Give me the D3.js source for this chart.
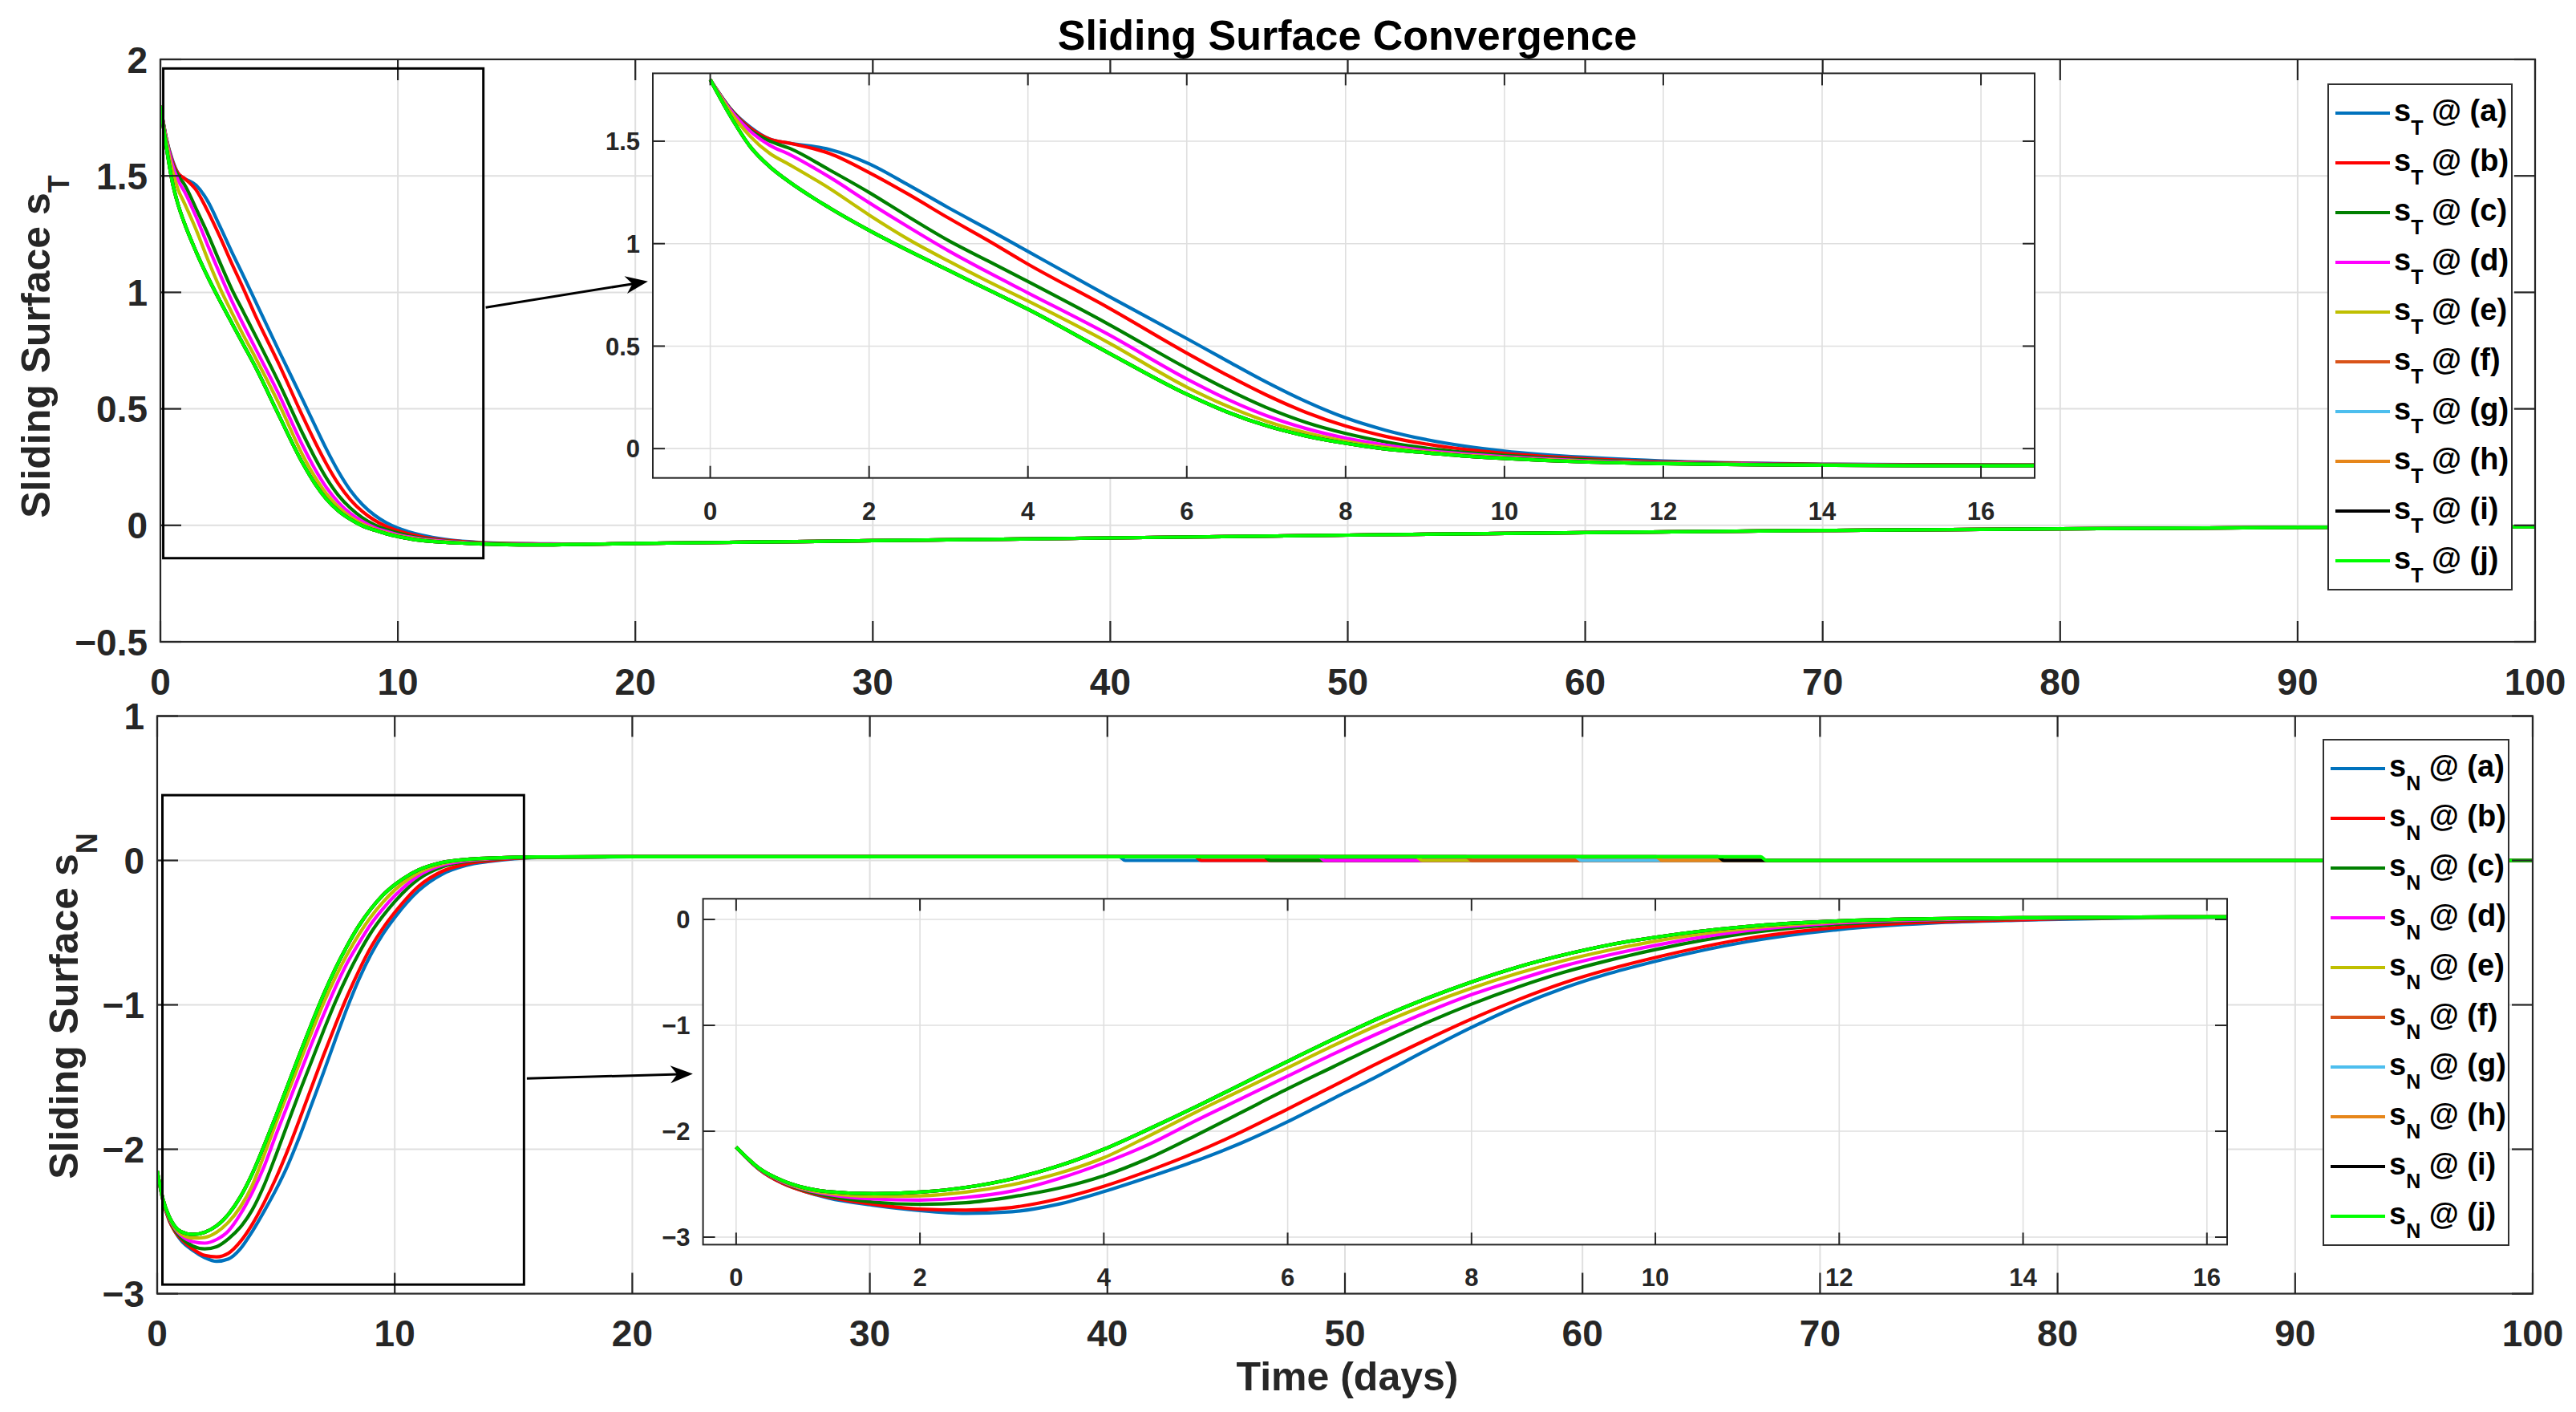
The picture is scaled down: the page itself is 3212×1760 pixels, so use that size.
<!DOCTYPE html>
<html>
<head>
<meta charset="utf-8">
<script src="https://cdn.jsdelivr.net/npm/d3@7"></script>
<style>
  body { margin: 0; background: #fff; }
  svg text { font-family: "Liberation Sans", Arial, sans-serif; font-weight: bold; }
</style>
</head>
<body>
<div id="chart"></div>
<script>
const W = 3212, H = 1760;

// ---- data ----
const caseLabels = ["a", "b", "c", "d", "e", "f", "g", "h", "i", "j"];
const caseColors = ["#0072BD", "#FF0000", "#008000", "#FF00FF", "#BFBF00",
                    "#D95319", "#4DBEEE", "#E6861A", "#000000", "#00FF00"];

// s_T, transient part (days)
const timeT = [0, 0.25, 0.5, 0.75, 1, 1.5, 2, 2.5, 3, 3.5, 4, 5, 6, 6.5, 7, 7.5, 8, 8.5, 9, 9.5, 10, 11, 12, 13, 14, 16];
const sTa = [1.80, 1.66, 1.57, 1.51, 1.49, 1.46, 1.39, 1.285, 1.175, 1.07, 0.962, 0.747, 0.537, 0.43, 0.325, 0.23, 0.15, 0.09, 0.045, 0.012, -0.012, -0.042, -0.06, -0.07, -0.076, -0.079];
const sTb = [1.80, 1.66, 1.565, 1.51, 1.49, 1.44, 1.347, 1.24, 1.125, 1.015, 0.90, 0.69, 0.466, 0.36, 0.262, 0.177, 0.11, 0.06, 0.023, -0.004, -0.023, -0.049, -0.064, -0.072, -0.077, -0.080];
const sTc = [1.80, 1.66, 1.555, 1.50, 1.465, 1.36, 1.25, 1.13, 1.015, 0.915, 0.815, 0.61, 0.392, 0.291, 0.201, 0.128, 0.074, 0.033, 0.003, -0.018, -0.033, -0.055, -0.067, -0.074, -0.078, -0.081];
const sTd = [1.80, 1.655, 1.55, 1.48, 1.435, 1.325, 1.20, 1.08, 0.965, 0.86, 0.76, 0.56, 0.34, 0.243, 0.161, 0.098, 0.051, 0.017, -0.009, -0.026, -0.04, -0.059, -0.069, -0.075, -0.079, -0.082];
const sTe = [1.80, 1.645, 1.525, 1.44, 1.385, 1.27, 1.14, 1.02, 0.915, 0.815, 0.72, 0.52, 0.30, 0.209, 0.134, 0.078, 0.036, 0.006, -0.016, -0.032, -0.045, -0.062, -0.071, -0.077, -0.08, -0.083];
const sTj = [1.80, 1.625, 1.475, 1.375, 1.30, 1.175, 1.065, 0.965, 0.87, 0.775, 0.68, 0.47, 0.265, 0.18, 0.112, 0.062, 0.026, -0.002, -0.02, -0.036, -0.048, -0.065, -0.073, -0.078, -0.081, -0.084];
// (f)-(i) sit under (j) in the picture
const sTList = [sTa, sTb, sTc, sTd, sTe, sTj, sTj, sTj, sTj, sTj];
// slow tail shared by every case
const timeTTail = [18, 20, 25, 30, 40, 50, 60, 70, 80, 90, 100];
const sTTail = [-0.081, -0.078, -0.072, -0.066, -0.054, -0.042, -0.031, -0.022, -0.015, -0.009, -0.006];

// s_N, transient part (days)
const timeN = [0, 0.25, 0.5, 0.75, 1, 1.5, 2, 2.5, 3, 3.5, 4, 4.5, 5, 5.5, 6, 6.5, 7, 7.5, 8, 8.5, 9, 9.5, 10, 11, 12, 13, 14, 16, 20];
const sNa = [-2.15, -2.36, -2.49, -2.57, -2.63, -2.70, -2.75, -2.776, -2.76, -2.69, -2.57, -2.43, -2.28, -2.11, -1.91, -1.69, -1.47, -1.24, -1.02, -0.82, -0.65, -0.51, -0.395, -0.21, -0.095, -0.035, -0.007, 0.02, 0.026];
const sNb = [-2.15, -2.36, -2.49, -2.57, -2.62, -2.69, -2.735, -2.745, -2.72, -2.64, -2.52, -2.37, -2.20, -2.005, -1.79, -1.57, -1.35, -1.14, -0.94, -0.76, -0.60, -0.47, -0.36, -0.18, -0.075, -0.025, -0.002, 0.021, 0.026];
const sNc = [-2.15, -2.355, -2.48, -2.56, -2.61, -2.67, -2.69, -2.675, -2.62, -2.54, -2.42, -2.25, -2.04, -1.82, -1.60, -1.39, -1.18, -0.98, -0.80, -0.64, -0.50, -0.385, -0.285, -0.13, -0.045, -0.008, 0.008, 0.023, 0.026];
const sNd = [-2.15, -2.355, -2.475, -2.55, -2.595, -2.64, -2.65, -2.625, -2.565, -2.45, -2.30, -2.12, -1.90, -1.69, -1.48, -1.27, -1.07, -0.88, -0.71, -0.57, -0.44, -0.335, -0.245, -0.105, -0.032, -0.002, 0.011, 0.023, 0.026];
const sNe = [-2.15, -2.35, -2.47, -2.545, -2.585, -2.615, -2.61, -2.575, -2.505, -2.40, -2.25, -2.04, -1.82, -1.61, -1.40, -1.19, -0.99, -0.81, -0.65, -0.51, -0.39, -0.29, -0.205, -0.085, -0.022, 0.004, 0.014, 0.024, 0.026];
const sNj = [-2.15, -2.35, -2.465, -2.535, -2.57, -2.59, -2.575, -2.53, -2.45, -2.33, -2.17, -1.975, -1.77, -1.555, -1.34, -1.13, -0.93, -0.75, -0.59, -0.45, -0.335, -0.24, -0.168, -0.066, -0.014, 0.007, 0.016, 0.024, 0.026];
const sNList = [sNa, sNb, sNc, sNd, sNe, sNj, sNj, sNj, sNj, sNj];
// each case holds a small positive level, then drops to zero on its own day
const sNHold = 0.026;
const sNDropDay = [40.5, 43.7, 46.6, 48.9, 53.0, 55.1, 59.7, 63.1, 65.7, 67.5];

// ticks
const xTicksMain = [0, 10, 20, 30, 40, 50, 60, 70, 80, 90, 100];
const yTicksT = [-0.5, 0, 0.5, 1, 1.5, 2];
const yTicksN = [-3, -2, -1, 0, 1];
const xTicksInset = [0, 2, 4, 6, 8, 10, 12, 14, 16];
const yTicksInsetT = [0, 0.5, 1, 1.5];
const yTicksInsetN = [-3, -2, -1, 0];

// zoom boxes [x0, x1, y0, y1] and arrows [x1, y1, x2, y2], in main-axes units
const zoomBoxT = [0.12, 13.6, -0.141, 1.961];
const arrowT = [13.7, 0.935, 20.53, 1.047];
const zoomBoxN = [0.22, 15.44, -2.937, 0.452];
const arrowN = [15.56, -1.51, 22.55, -1.478];

// ---- build series ----
const seriesT = caseLabels.map((c, i) => ({
  label: c, color: caseColors[i],
  pts: timeT.map((t, k) => [t, sTList[i][k]]).concat(timeTTail.map((t, k) => [t, sTTail[k]]))
}));
const seriesN = caseLabels.map((c, i) => ({
  label: c, color: caseColors[i],
  pts: timeN.map((t, k) => [t, sNList[i][k]])
    .concat([[sNDropDay[i], sNHold], [sNDropDay[i] + 0.25, 0], [100, 0]])
}));

const fmt = d => (d < 0 ? "\u2212" : "") + Math.abs(d);

const svg = d3.select("#chart").append("svg")
  .attr("width", W).attr("height", H)
  .attr("viewBox", `0 0 ${W} ${H}`);
svg.append("rect").attr("width", W).attr("height", H).attr("fill", "#fff");
const defs = svg.append("defs");

let clipCount = 0;
function drawAxes(o, series) {
  const x = d3.scaleLinear().domain(o.xDomain).range([o.left, o.right]);
  const y = d3.scaleLinear().domain(o.yDomain).range([o.bottom, o.top]);
  const g = svg.append("g");

  g.append("rect")
    .attr("x", o.left).attr("y", o.top)
    .attr("width", o.right - o.left).attr("height", o.bottom - o.top)
    .attr("fill", "#fff");

  // grid
  g.append("g").selectAll("line").data(o.xTicks).join("line")
    .attr("x1", d => x(d)).attr("x2", d => x(d))
    .attr("y1", o.top).attr("y2", o.bottom)
    .attr("stroke", "#dfdfdf").attr("stroke-width", o.gridW);
  g.append("g").selectAll("line").data(o.yTicks).join("line")
    .attr("y1", d => y(d)).attr("y2", d => y(d))
    .attr("x1", o.left).attr("x2", o.right)
    .attr("stroke", "#dfdfdf").attr("stroke-width", o.gridW);

  // curves
  const id = "clip" + (clipCount++);
  defs.append("clipPath").attr("id", id).append("rect")
    .attr("x", o.left).attr("y", o.top)
    .attr("width", o.right - o.left).attr("height", o.bottom - o.top);
  const line = d3.line().x(d => x(d[0])).y(d => y(d[1])).curve(d3.curveMonotoneX);
  g.append("g").attr("clip-path", `url(#${id})`)
    .selectAll("path").data(series).join("path")
    .attr("d", d => line(d.pts))
    .attr("fill", "none")
    .attr("stroke", d => d.color)
    .attr("stroke-width", 4.2)
    .attr("stroke-linejoin", "round");

  // box and inward ticks on all sides
  const axisCol = "#262626";
  const tl = o.tickLen;
  const ticks = g.append("g").attr("stroke", axisCol).attr("stroke-width", o.boxW);
  o.xTicks.forEach(t => {
    ticks.append("line").attr("x1", x(t)).attr("x2", x(t)).attr("y1", o.bottom).attr("y2", o.bottom - tl);
    ticks.append("line").attr("x1", x(t)).attr("x2", x(t)).attr("y1", o.top).attr("y2", o.top + tl);
  });
  o.yTicks.forEach(t => {
    ticks.append("line").attr("y1", y(t)).attr("y2", y(t)).attr("x1", o.left).attr("x2", o.left + tl);
    ticks.append("line").attr("y1", y(t)).attr("y2", y(t)).attr("x1", o.right).attr("x2", o.right - tl);
  });
  g.append("rect")
    .attr("x", o.left).attr("y", o.top)
    .attr("width", o.right - o.left).attr("height", o.bottom - o.top)
    .attr("fill", "none").attr("stroke", axisCol).attr("stroke-width", o.boxW);

  // tick labels
  g.append("g").selectAll("text").data(o.xTicks).join("text")
    .attr("x", d => x(d)).attr("y", o.xLabelY)
    .attr("text-anchor", "middle")
    .attr("font-size", o.fontSize).attr("fill", axisCol)
    .text(fmt);
  g.append("g").selectAll("text").data(o.yTicks).join("text")
    .attr("x", o.left - o.yLabelGap).attr("y", d => y(d))
    .attr("dy", "0.36em")
    .attr("text-anchor", "end")
    .attr("font-size", o.fontSize).attr("fill", axisCol)
    .text(fmt);

  return { x, y, g };
}

function drawZoomMarks(ax, box, arr) {
  const g = svg.append("g");
  g.append("rect")
    .attr("x", ax.x(box[0])).attr("y", ax.y(box[3]))
    .attr("width", ax.x(box[1]) - ax.x(box[0]))
    .attr("height", ax.y(box[2]) - ax.y(box[3]))
    .attr("fill", "none").attr("stroke", "#000").attr("stroke-width", 3);
  const x1 = ax.x(arr[0]), y1 = ax.y(arr[1]), x2 = ax.x(arr[2]), y2 = ax.y(arr[3]);
  const L = Math.hypot(x2 - x1, y2 - y1), ux = (x2 - x1) / L, uy = (y2 - y1) / L;
  const px = -uy, py = ux, hl = 28, hw = 11;
  const bx = x2 - ux * hl, by = y2 - uy * hl;
  g.append("line")
    .attr("x1", x1).attr("y1", y1)
    .attr("x2", x2 - ux * hl * 0.6).attr("y2", y2 - uy * hl * 0.6)
    .attr("stroke", "#000").attr("stroke-width", 3);
  g.append("path")
    .attr("d", `M${x2},${y2}L${bx + px * hw},${by + py * hw}L${x2 - ux * hl * 0.7},${y2 - uy * hl * 0.7}L${bx - px * hw},${by - py * hw}Z`)
    .attr("fill", "#000");
}

function drawLegend(left, top, width, height, sub, series) {
  const g = svg.append("g");
  g.append("rect")
    .attr("x", left).attr("y", top).attr("width", width).attr("height", height)
    .attr("fill", "#fff").attr("stroke", "#303030").attr("stroke-width", 2);
  const rowH = 62, first = 36;
  series.forEach((s, i) => {
    const cy = top + first + i * rowH;
    g.append("line")
      .attr("x1", left + 9).attr("x2", left + 77)
      .attr("y1", cy).attr("y2", cy)
      .attr("stroke", s.color).attr("stroke-width", 4);
    const t = g.append("text")
      .attr("x", left + 82).attr("y", cy + 10)
      .attr("font-size", 38).attr("fill", "#000");
    t.append("tspan").text("s");
    t.append("tspan").attr("font-size", 25).attr("dy", 17).text(sub);
    t.append("tspan").attr("dy", -17).text(` @ (${s.label})`);
  });
}

function drawYLabel(cx, cy, sub) {
  const t = svg.append("text")
    .attr("transform", `translate(${cx},${cy}) rotate(-90)`)
    .attr("text-anchor", "middle")
    .attr("font-size", 50).attr("fill", "#262626");
  t.append("tspan").text("Sliding Surface s");
  t.append("tspan").attr("font-size", 36).attr("dy", 24).text(sub);
}

// ---- top panel: s_T ----
const axT = drawAxes({
  left: 200, right: 3161, top: 74, bottom: 800,
  xDomain: [0, 100], yDomain: [-0.5, 2],
  xTicks: xTicksMain, yTicks: yTicksT,
  tickLen: 26, gridW: 2, boxW: 2.2, fontSize: 46,
  xLabelY: 866, yLabelGap: 16
}, seriesT);
drawZoomMarks(axT, zoomBoxT, arrowT);
drawAxes({
  left: 814, right: 2537, top: 91.4, bottom: 595.7,
  xDomain: [-0.723, 16.676], yDomain: [-0.143, 1.831],
  xTicks: xTicksInset, yTicks: yTicksInsetT,
  tickLen: 15, gridW: 1.6, boxW: 2, fontSize: 31,
  xLabelY: 648, yLabelGap: 16
}, seriesT);
drawLegend(2903, 105, 229, 630, "T", seriesT);
drawYLabel(62, 432, "T");

// ---- bottom panel: s_N ----
const axN = drawAxes({
  left: 196, right: 3158, top: 892.5, bottom: 1612.5,
  xDomain: [0, 100], yDomain: [-3, 1],
  xTicks: xTicksMain, yTicks: yTicksN,
  tickLen: 26, gridW: 2, boxW: 2.2, fontSize: 46,
  xLabelY: 1678, yLabelGap: 16
}, seriesN);
drawZoomMarks(axN, zoomBoxN, arrowN);
drawAxes({
  left: 876.6, right: 2777, top: 1120.3, bottom: 1551.4,
  xDomain: [-0.36, 16.22], yDomain: [-3.071, 0.195],
  xTicks: xTicksInset, yTicks: yTicksInsetN,
  tickLen: 15, gridW: 1.6, boxW: 2, fontSize: 31,
  xLabelY: 1603, yLabelGap: 16
}, seriesN);
drawLegend(2897, 922, 231, 630, "N", seriesN);
drawYLabel(97, 1254, "N");

// title and x label
svg.append("text")
  .attr("x", 1680).attr("y", 62)
  .attr("text-anchor", "middle")
  .attr("font-size", 52).attr("fill", "#000")
  .text("Sliding Surface Convergence");
svg.append("text")
  .attr("x", 1680).attr("y", 1733)
  .attr("text-anchor", "middle")
  .attr("font-size", 50).attr("fill", "#262626")
  .text("Time (days)");
</script>
</body>
</html>
